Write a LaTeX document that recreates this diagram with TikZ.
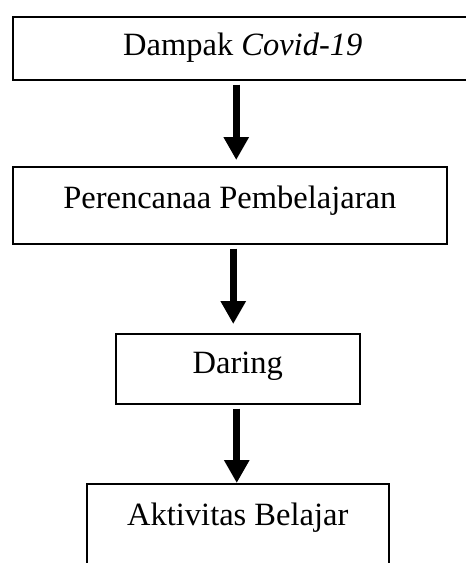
\documentclass[tikz,border=0pt]{standalone}
\usepackage{fontspec}
\setmainfont{Liberation Serif}
\usetikzlibrary{arrows.meta,positioning}

\begin{document}
\begin{tikzpicture}[
  x=1pt,y=-1pt,
  box/.style={draw,line width=1.5pt,inner sep=0pt,anchor=north west,font=\fontsize{32.5}{35}\selectfont},
  arr/.style={-{Triangle[width=24pt,length=23pt]},line width=7pt}
]
\useasboundingbox (0,0) rectangle (466,563);

\node[box,minimum width=460pt,text height=39pt,text depth=24pt] (dampak) at (12,16) {Dampak \textit{Covid-19}};
\node[box,minimum width=434pt,text height=42pt,text depth=35pt] (rencana) at (12,166) {Perencanaa Pembelajaran};
\node[box,minimum width=244pt,text height=40pt,text depth=30pt] (daring) at (115,333) {Daring};
\node[box,minimum width=302pt,text height=42pt,text depth=50pt] (aktivitas) at (86,483) {Aktivitas Belajar};

% arrows between the stages
\draw[arr] ([xshift=-6.5pt,yshift=-4pt]dampak.south) -- ([xshift=6.5pt,yshift=6pt]rencana.north);
\draw[arr] ([xshift=3.5pt,yshift=-4pt]rencana.south) -- ([xshift=-4.5pt,yshift=9pt]daring.north);
\draw[arr] ([xshift=-1pt,yshift=-4pt]daring.south) -- ([xshift=-1pt]aktivitas.north);
\end{tikzpicture}
\end{document}
